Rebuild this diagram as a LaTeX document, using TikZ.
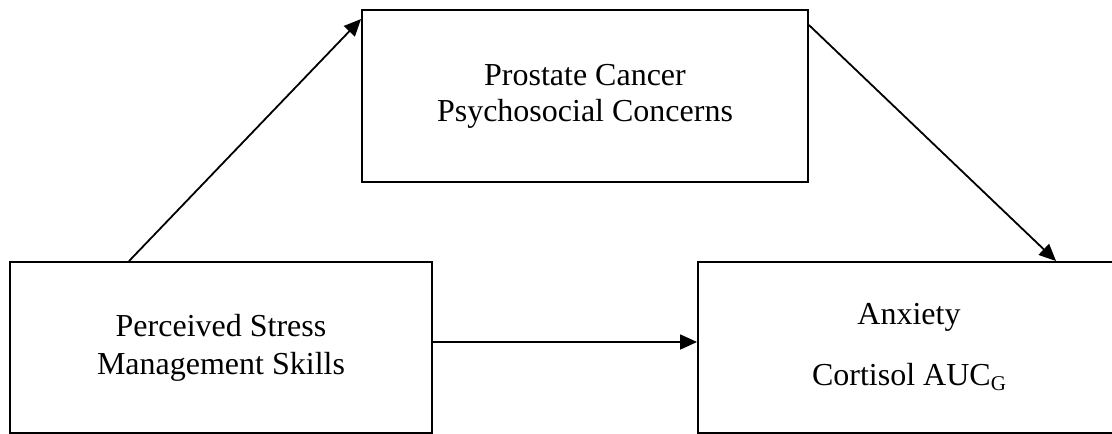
\documentclass[tikz,border=0pt]{standalone}
\usepackage{fontspec}
\setmainfont{Liberation Serif}
\usetikzlibrary{arrows.meta}
\begin{document}
\begin{tikzpicture}[x=1pt,y=-1pt,
  box/.style={draw,line width=1.9pt,rectangle,inner sep=0pt,align=center,
    font=\fontsize{32}{38}\selectfont},
  link/.style={line width=1.8pt,-{Triangle[length=17pt,width=15pt]}}]
\useasboundingbox (0,0) rectangle (1112,434);
\node[box,minimum width=446pt,minimum height=172pt] (T) at (585,96)
  {Prostate Cancer\\[-2pt]Psychosocial Concerns};
\node[box,minimum width=422pt,minimum height=171pt] (L) at (221,347.5)
  {Perceived Stress\\Management Skills};
\node[box,minimum width=422pt,minimum height=171pt] (R) at (909,347.5)
  {Anxiety\\[23pt]Cortisol AUC\raisebox{-5pt}{\fontsize{21}{21}\selectfont G}};
\coordinate (a1) at ([xshift=120pt]L.north west);
\coordinate (a2) at ([yshift=-10pt]T.north west);
\coordinate (b1) at ([yshift=-16pt]T.north east);
\coordinate (b2) at ([xshift=359pt]R.north west);
\coordinate (c1) at ([yshift=5.5pt]L.east);
\coordinate (c2) at ([yshift=5.5pt]R.west);
\draw[link] (a1) -- (a2);
\draw[link] (b1) -- (b2);
\draw[link] (c1) -- (c2);
\end{tikzpicture}
\end{document}
